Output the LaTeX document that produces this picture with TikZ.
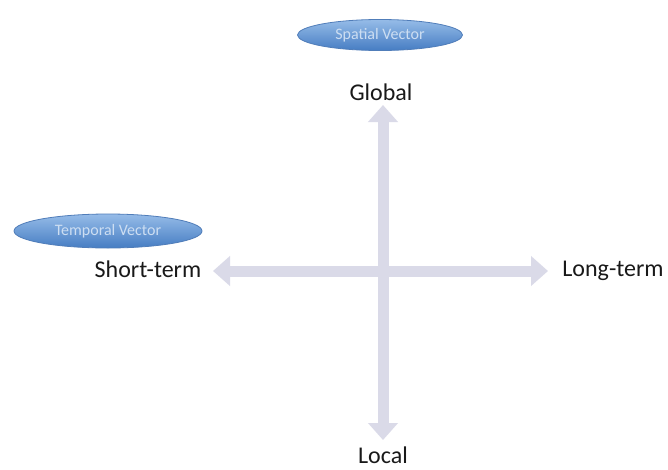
\documentclass[tikz,border=0pt]{standalone}
\usepackage{fontspec}
\setmainfont{Carlito}
\usetikzlibrary{arrows.meta,shapes.geometric}
\definecolor{axisc}{RGB}{218,218,232}
\definecolor{ellTop}{RGB}{150,188,232}
\definecolor{ellBot}{RGB}{70,125,195}
\definecolor{ellLine}{RGB}{80,125,185}
\definecolor{ellText}{RGB}{205,222,242}
\definecolor{labc}{RGB}{25,25,25}
\tikzset{
  axislabel/.style={font=\fontsize{24}{28}\selectfont, text=labc, inner sep=0pt},
  vecell/.style={ellipse, draw=ellLine, line width=0.8pt, top color=ellTop, bottom color=ellBot,
     text=ellText, font=\fontsize{16}{19}\selectfont, inner sep=0pt},
  axisarrow/.style={draw=axisc, line width=11pt, {Triangle[length=17pt,width=29pt]}-{Triangle[length=17pt,width=29pt]}},
}
\begin{document}
\begin{tikzpicture}[x=1pt,y=-1pt]
\useasboundingbox[fill=white] (0,0) rectangle (668,469);
\node[vecell, minimum width=165pt, minimum height=31pt] (spatial) at (380,35) {Spatial Vector};
\node[vecell, minimum width=188pt, minimum height=34pt] (temporal) at (108,231) {Temporal Vector};
\node[axislabel] (global) at (381,92) {Global};
\node[axislabel] (local) at (383,455) {Local};
\node[axislabel] (short) at (148,269) {Short-term};
\node[axislabel] (long) at (613,271) {Long-term};
\coordinate (top) at (383,105);
\coordinate (bottom) at (383,440);
\coordinate (left) at (213,271);
\coordinate (right) at (548,271);
\draw[axisarrow] (left) -- (right);
\draw[axisarrow] (top) -- (bottom);
\end{tikzpicture}
\end{document}
